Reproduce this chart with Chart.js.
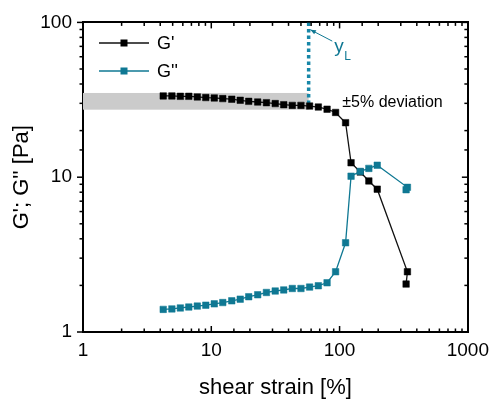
<!DOCTYPE html>
<html>
<head>
<meta charset="utf-8">
<script src="https://cdn.jsdelivr.net/npm/chart.js@4.4.1/dist/chart.umd.min.js"></script>
<style>
html, body { margin: 0; padding: 0; background: #fff; }
</style>
</head>
<body>
<canvas id="myChart" width="496" height="399"></canvas>
<script>
// shear strain [%]
var strain = [4.22, 4.93, 5.74, 6.68, 7.78, 9.06, 10.55, 12.29, 14.44, 16.81,
    19.58, 23.0, 26.9, 31.5, 36.7, 42.8, 50.0, 58.4, 68.3, 79.9,
    93.1, 111.4, 122.9, 144.9, 169.1, 196.6, 338, 330];
// G' storage modulus [Pa]
var gStorage = [33.5, 33.5, 33.3, 33.3, 33.0, 32.7, 32.5, 32.2, 31.9, 31.4,
    30.9, 30.6, 30.3, 29.9, 29.4, 29.1, 29.1, 28.8, 28.4, 27.5,
    26.2, 22.5, 12.4, 10.8, 9.46, 8.37, 2.45, 2.04];
// G'' loss modulus [Pa]
var gLoss = [1.40, 1.41, 1.43, 1.45, 1.47, 1.49, 1.52, 1.55, 1.59, 1.63,
    1.69, 1.74, 1.80, 1.84, 1.87, 1.91, 1.91, 1.95, 1.99, 2.08,
    2.45, 3.77, 10.15, 10.9, 11.4, 11.95, 8.6, 8.3];

var decadeLabels = [1, 10, 100, 1000];
var yieldStrain = 57.4;      // y_L
var yieldLineEnd = 29.1;
var bandLow = 27.3;          // +-5% deviation band
var bandHigh = 35.0;
var arrowFrom = [87.7, 75.7];
var arrowTo = [59.2, 89.7];
var deviationLabelAt = [105, 30.5];

var FONT = '"Liberation Sans", Arial, sans-serif';
var TEAL = '#0f7893';

function pairs(xs, ys) {
    return xs.map(function (x, i) { return { x: x, y: ys[i] }; });
}

function decadeOnly(v) {
    return decadeLabels.indexOf(v) >= 0 ? String(v) : '';
}

// inward / outward tick marks on all four sides
var boxTicks = {
    id: 'boxTicks',
    afterDraw: function (chart) {
        var c = chart.ctx, a = chart.chartArea;
        c.save();
        c.strokeStyle = '#000';
        c.lineWidth = 1.5;
        ['x', 'x2', 'y', 'y2'].forEach(function (id) {
            var s = chart.scales[id];
            s.ticks.forEach(function (t) {
                var lg = Math.log10(t.value);
                var major = Math.abs(lg - Math.round(lg)) < 1e-6;
                var len = major ? 6 : 3.5;
                var p = s.getPixelForValue(t.value);
                c.beginPath();
                if (id === 'x') { c.moveTo(p, a.bottom); c.lineTo(p, a.bottom - len); }
                else if (id === 'x2') { c.moveTo(p, a.top); c.lineTo(p, a.top + len); }
                else if (id === 'y') { c.moveTo(a.left, p); c.lineTo(a.left - len, p); }
                else { c.moveTo(a.right, p); c.lineTo(a.right - len, p); }
                c.stroke();
            });
        });
        c.restore();
    }
};

var extras = {
    id: 'extras',
    beforeDatasetsDraw: function (chart) {
        var c = chart.ctx, xs = chart.scales.x, ys = chart.scales.y;
        var x0 = chart.chartArea.left, x1 = xs.getPixelForValue(yieldStrain);
        var y0 = ys.getPixelForValue(bandHigh), y1 = ys.getPixelForValue(bandLow);
        c.save();
        c.fillStyle = '#cbcbcb';
        c.fillRect(x0, y0, x1 - x0, y1 - y0);
        c.restore();
    },
    afterDatasetsDraw: function (chart) {
        var c = chart.ctx, xs = chart.scales.x, ys = chart.scales.y;
        var fx = xs.getPixelForValue(arrowFrom[0]), fy = ys.getPixelForValue(arrowFrom[1]);
        var tx = xs.getPixelForValue(arrowTo[0]), ty = ys.getPixelForValue(arrowTo[1]);
        c.save();
        c.strokeStyle = TEAL;
        c.fillStyle = TEAL;
        c.lineWidth = 1;
        c.beginPath(); c.moveTo(fx, fy); c.lineTo(tx, ty); c.stroke();
        var ang = Math.atan2(ty - fy, tx - fx);
        c.beginPath();
        c.moveTo(tx, ty);
        c.lineTo(tx - 6 * Math.cos(ang - 0.4), ty - 6 * Math.sin(ang - 0.4));
        c.lineTo(tx - 6 * Math.cos(ang + 0.4), ty - 6 * Math.sin(ang + 0.4));
        c.closePath(); c.fill();
        c.textBaseline = 'alphabetic';
        c.textAlign = 'left';
        c.font = '19px ' + FONT;
        c.fillText('y', fx + 2, fy + 11);
        c.font = '12px ' + FONT;
        c.fillText('L', fx + 12, fy + 19);
        c.fillStyle = '#000';
        c.font = '16px ' + FONT;
        c.textBaseline = 'middle';
        c.fillText('\u00b15% deviation', xs.getPixelForValue(deviationLabelAt[0]),
            ys.getPixelForValue(deviationLabelAt[1]));
        c.restore();
    },
    afterDraw: function (chart) {
        var c = chart.ctx;
        c.save();
        [0, 1].forEach(function (i) {
            var ds = chart.data.datasets[i];
            var y = 43 + i * 28;
            c.strokeStyle = ds.borderColor;
            c.lineWidth = 1.5;
            c.beginPath(); c.moveTo(99, y); c.lineTo(149, y); c.stroke();
            c.fillStyle = ds.pointBackgroundColor;
            c.fillRect(120.5, y - 3.5, 7, 7);
            c.fillStyle = '#000';
            c.font = '18px ' + FONT;
            c.textBaseline = 'middle';
            c.fillText(ds.label, 157, y + 1);
        });
        c.restore();
    }
};

var ctx = document.getElementById('myChart').getContext('2d');

var chart = new Chart(ctx, {
    type: 'scatter',
    data: {
        datasets: [{
            label: "G'",
            data: pairs(strain, gStorage),
            showLine: true,
            borderColor: '#111',
            borderWidth: 1.3,
            pointBackgroundColor: '#000',
            pointBorderColor: '#000',
            pointStyle: 'rect',
            pointRadius: 4.6,
            pointBorderWidth: 0.5,
            order: 1
        }, {
            label: "G''",
            data: pairs(strain, gLoss),
            showLine: true,
            borderColor: TEAL,
            borderWidth: 1.3,
            pointBackgroundColor: TEAL,
            pointBorderColor: TEAL,
            pointStyle: 'rect',
            pointRadius: 4.6,
            pointBorderWidth: 0.5,
            order: 0
        }, {
            label: 'yL',
            data: [{ x: yieldStrain, y: 100 }, { x: yieldStrain, y: yieldLineEnd }],
            showLine: true,
            borderColor: '#1787a8',
            borderWidth: 3.5,
            borderDash: [3.5, 3],
            pointRadius: 0,
            order: 2
        }]
    },
    options: {
        responsive: false,
        devicePixelRatio: 1,
        animation: false,
        layout: { padding: 0 },
        plugins: { legend: { display: false }, tooltip: { enabled: false } },
        scales: {
            x: {
                type: 'logarithmic', position: 'bottom', min: 1, max: 1000,
                afterFit: function (s) { s.height = 67; },
                grid: { drawOnChartArea: false, drawTicks: false },
                border: { display: true, color: '#000', width: 2 },
                ticks: { autoSkip: false, maxRotation: 0, padding: 7, color: '#000',
                    font: { family: FONT, size: 19 }, callback: decadeOnly },
                title: { display: true, text: 'shear strain [%]', color: '#000',
                    font: { family: FONT, size: 22, lineHeight: 1 }, padding: 0 }
            },
            x2: {
                type: 'logarithmic', position: 'top', min: 1, max: 1000,
                afterFit: function (s) { s.height = 22; },
                grid: { drawOnChartArea: false, drawTicks: false },
                border: { display: true, color: '#000', width: 2 },
                ticks: { display: false, autoSkip: false }
            },
            y: {
                type: 'logarithmic', position: 'left', min: 1, max: 100,
                afterFit: function (s) { s.width = 83; },
                grid: { drawOnChartArea: false, drawTicks: false },
                border: { display: true, color: '#000', width: 2 },
                ticks: { autoSkip: false, padding: 11, color: '#000',
                    font: { family: FONT, size: 19 }, callback: decadeOnly },
                title: { display: true, text: "G'; G'' [Pa]", color: '#000',
                    font: { family: FONT, size: 22, lineHeight: 1 }, padding: { top: 11, bottom: 0 } }
            },
            y2: {
                type: 'logarithmic', position: 'right', min: 1, max: 100,
                afterFit: function (s) { s.width = 27; },
                grid: { drawOnChartArea: false, drawTicks: false },
                border: { display: true, color: '#000', width: 2 },
                ticks: { display: false, autoSkip: false }
            }
        }
    },
    plugins: [boxTicks, extras]
});
</script>
</body>
</html>
